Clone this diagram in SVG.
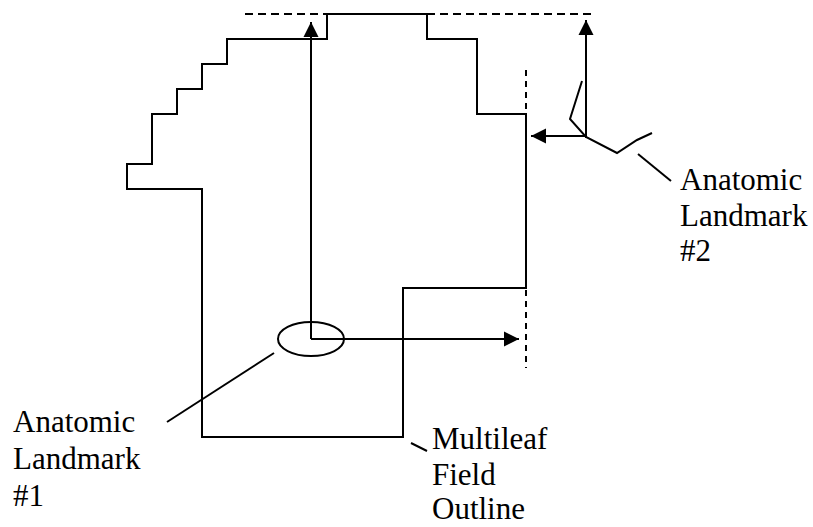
<svg xmlns="http://www.w3.org/2000/svg" width="813" height="527" viewBox="0 0 813 527">
<style>
.ln{fill:none;stroke:#000;stroke-width:2}
.dash{fill:none;stroke:#000;stroke-width:2;stroke-dasharray:8,5}
.vdash{fill:none;stroke:#000;stroke-width:2;stroke-dasharray:6,5}
.lbl{font-family:"Liberation Serif","Times New Roman",serif;font-size:31px;fill:#000}
</style>
<defs>
<marker id="ah" markerUnits="userSpaceOnUse" markerWidth="16" markerHeight="16" viewBox="0 0 16 16" refX="15" refY="8" orient="auto">
<path d="M0,0.5 L15,8 L0,15.5 Z" fill="#000"/>
</marker>
</defs>
<rect width="813" height="527" fill="#fff"/>
<g id="field-outline">
<path class="ln" d="M327,14 L427,14 L427,39 L477,39 L477,114 L526,114 L526,288 L403,288 L403,437 L202,437 L202,189 L127,189 L127,164 L152,164 L152,114 L177,114 L177,89 L202,89 L202,64 L227,64 L227,39 L327,39 Z"/>
</g>
<g id="reference-lines">
<line class="dash" x1="245" y1="14" x2="592" y2="14"/>
<line class="vdash" x1="526" y1="70" x2="526" y2="368"/>
</g>
<g id="landmark1">
<ellipse class="ln" cx="311" cy="339" rx="33" ry="17"/>
</g>
<g id="landmark2">
<polyline class="ln" points="582,81 570,119 586,137 617,153 637,140 652,133"/>
</g>
<g id="connectors">
<line class="ln" x1="311" y1="339" x2="311" y2="22" marker-end="url(#ah)"/>
<line class="ln" x1="311" y1="339" x2="519" y2="339" marker-end="url(#ah)"/>
<line class="ln" x1="586" y1="138" x2="586" y2="20" marker-end="url(#ah)"/>
<line class="ln" x1="586" y1="136" x2="531" y2="136" marker-end="url(#ah)"/>
<line class="ln" x1="274" y1="353" x2="167" y2="422"/>
<line class="ln" x1="638" y1="154" x2="671" y2="181"/>
<line class="ln" x1="411" y1="443" x2="427" y2="451"/>
</g>
<g id="label-landmark2">
<text class="lbl" x="680" y="190">Anatomic</text>
<text class="lbl" x="680" y="226">Landmark</text>
<text class="lbl" x="680" y="261">#2</text>
</g>
<g id="label-landmark1">
<text class="lbl" x="13" y="432">Anatomic</text>
<text class="lbl" x="13" y="469">Landmark</text>
<text class="lbl" x="13" y="506">#1</text>
</g>
<g id="label-multileaf">
<text class="lbl" x="432" y="449">Multileaf</text>
<text class="lbl" x="432" y="485">Field</text>
<text class="lbl" x="432" y="519">Outline</text>
</g>
</svg>
